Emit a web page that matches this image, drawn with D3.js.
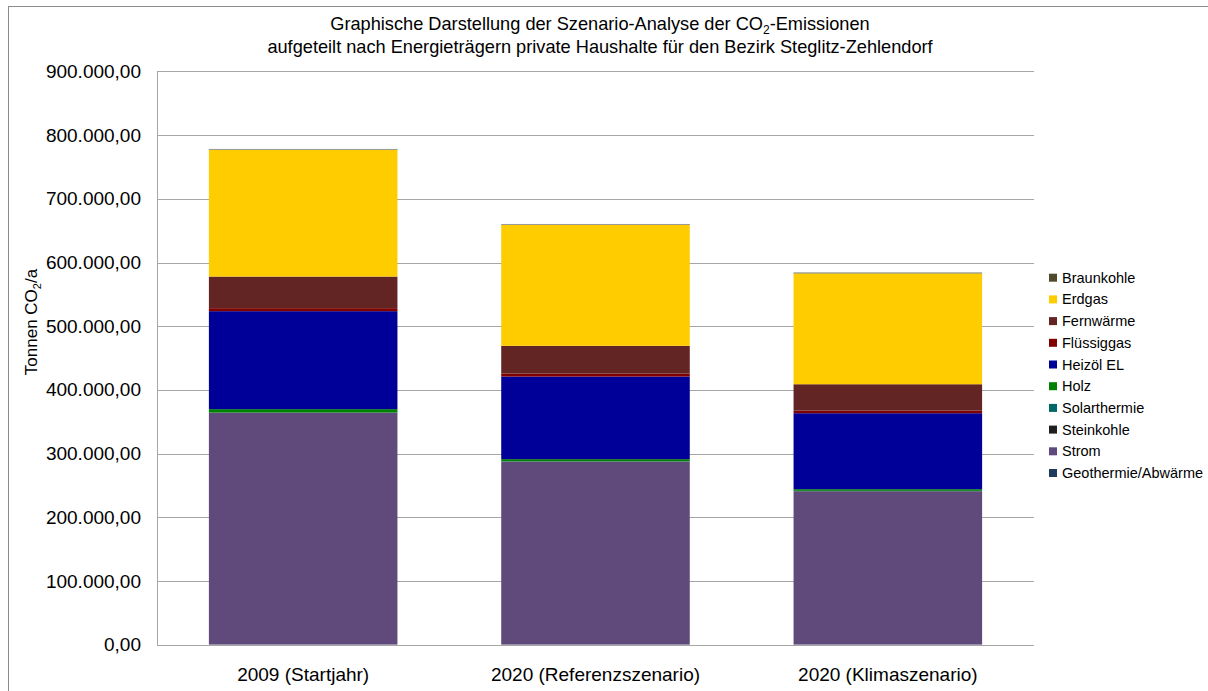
<!DOCTYPE html>
<html><head><meta charset="utf-8">
<script src="https://cdn.jsdelivr.net/npm/d3@7"></script>
<style>body{margin:0;background:#fff;}svg{display:block;font-family:"Liberation Sans",Arial,sans-serif;}</style>
</head><body><svg id="c" width="1208" height="691"></svg>
<script>
const categories = ["2009 (Startjahr)", "2020 (Referenzszenario)", "2020 (Klimaszenario)"];
// stacking order bottom -> top
const seriesNames = ["Geothermie/Abwärme","Strom","Steinkohle","Solarthermie","Holz","Heizöl EL","Flüssiggas","Fernwärme","Erdgas","Braunkohle"];
const geothermie = [300, 300, 300];
const strom = [363500, 287000, 240500];
const steinkohle = [200, 200, 200];
const solarthermie = [500, 500, 500];
const holz = [5300, 3300, 2600];
const heizoel = [153800, 129700, 119300];
const fluessiggas = [4700, 4700, 4100];
const fernwaerme = [49600, 43500, 41400];
const erdgas = [199000, 189900, 174300];
const braunkohle = [600, 600, 500];
const seriesColors = ["#1F3A5F","#604A7B","#1F1F1F","#006666","#008000","#000099","#800000","#632523","#FFCC00","#4F4A2E"];
const yTicks = [0,100000,200000,300000,400000,500000,600000,700000,800000,900000];
const tickLabels = ["0,00","100.000,00","200.000,00","300.000,00","400.000,00","500.000,00","600.000,00","700.000,00","800.000,00","900.000,00"];

const seriesValues = [geothermie,strom,steinkohle,solarthermie,holz,heizoel,fluessiggas,fernwaerme,erdgas,braunkohle];
const rows = categories.map((c,i)=>{const r={cat:c}; seriesNames.forEach((s,j)=>r[s]=seriesValues[j][i]); return r;});

const svg = d3.select("#c");
const L=157, R=1034, T=71.4, B=644.7;
// outer frame
svg.append("rect").attr("x",8.5).attr("y",6.5).attr("width",1220).attr("height",700)
  .attr("fill","none").attr("stroke","#8c8c8c").attr("stroke-width",1);

const x = d3.scaleBand().domain(categories).range([L,R]).paddingInner(0.355).paddingOuter(0.1775);
const y = d3.scaleLinear().domain([0,900000]).range([B,T]);

// gridlines
svg.append("g").selectAll("line").data(yTicks).join("line")
  .attr("x1",L).attr("x2",R).attr("y1",d=>Math.round(y(d))+0.5).attr("y2",d=>Math.round(y(d))+0.5)
  .attr("stroke","#a6a6a6").attr("stroke-width",1);
// left axis line
svg.append("line").attr("x1",L+0.5).attr("x2",L+0.5).attr("y1",y(900000)).attr("y2",B+0.5)
  .attr("stroke","#a6a6a6");

const stack = d3.stack().keys(seriesNames)(rows);
const color = d3.scaleOrdinal().domain(seriesNames).range(seriesColors);
svg.append("g").selectAll("g").data(stack).join("g").attr("fill",d=>color(d.key))
  .selectAll("rect").data(d=>d).join("rect")
  .attr("x",d=>x(d.data.cat)).attr("width",x.bandwidth())
  .attr("y",d=>y(d[1])).attr("height",d=>Math.max(0,y(d[0])-y(d[1])));
// thin top outline
svg.append("g").selectAll("line").data(rows).join("line")
  .attr("x1",d=>x(d.cat)).attr("x2",d=>x(d.cat)+x.bandwidth())
  .attr("y1",d=>y(d3.sum(seriesNames,s=>d[s]))).attr("y2",d=>y(d3.sum(seriesNames,s=>d[s])))
  .attr("stroke","#9a9a9a").attr("stroke-width",1);

// y axis labels
const yAxis = d3.axisLeft(y).tickValues(yTicks).tickFormat((d,i)=>tickLabels[i]).tickSize(0).tickPadding(16);
const ga = svg.append("g").attr("transform",`translate(${L},0)`).call(yAxis);
ga.select(".domain").remove();
ga.selectAll("text").attr("font-size",19).attr("fill","#000").attr("font-family","Liberation Sans, Arial, sans-serif");

// x labels
const xAxis = d3.axisBottom(x).tickSize(0).tickPadding(23);
const gx = svg.append("g").attr("transform",`translate(0,${B})`).call(xAxis);
gx.select(".domain").remove();
gx.selectAll("text").attr("font-size",19).attr("fill","#000").attr("font-family","Liberation Sans, Arial, sans-serif");

// y title
const yt = svg.append("text").attr("transform","translate(37,322) rotate(-90)").attr("text-anchor","middle")
  .attr("font-size",17).attr("fill","#000");
yt.append("tspan").text("Tonnen CO");
yt.append("tspan").attr("font-size",11).attr("dy",4).text("2");
yt.append("tspan").attr("dy",-4).text("/a");

// title
const t1 = svg.append("text").attr("x",600).attr("y",30).attr("text-anchor","middle").attr("font-size",18.2).attr("fill","#000");
t1.append("tspan").text("Graphische Darstellung der Szenario-Analyse der CO");
t1.append("tspan").attr("font-size",12).attr("dy",4).text("2");
t1.append("tspan").attr("dy",-4).text("-Emissionen");
svg.append("text").attr("x",600).attr("y",53).attr("text-anchor","middle").attr("font-size",18.2).attr("fill","#000")
  .text("aufgeteilt nach Energieträgern private Haushalte für den Bezirk Steglitz-Zehlendorf");

// legend (reverse order)
const legendNames = seriesNames.slice().reverse();
const lg = svg.append("g").selectAll("g").data(legendNames).join("g")
  .attr("transform",(d,i)=>`translate(1049,${277.7+i*21.7})`);
lg.append("rect").attr("x",0).attr("y",-4).attr("width",8).attr("height",8).attr("fill",d=>color(d));
lg.append("text").attr("x",13).attr("y",0).attr("dy","0.35em").attr("font-size",14.5).attr("fill","#000").text(d=>d);
</script></body></html>
